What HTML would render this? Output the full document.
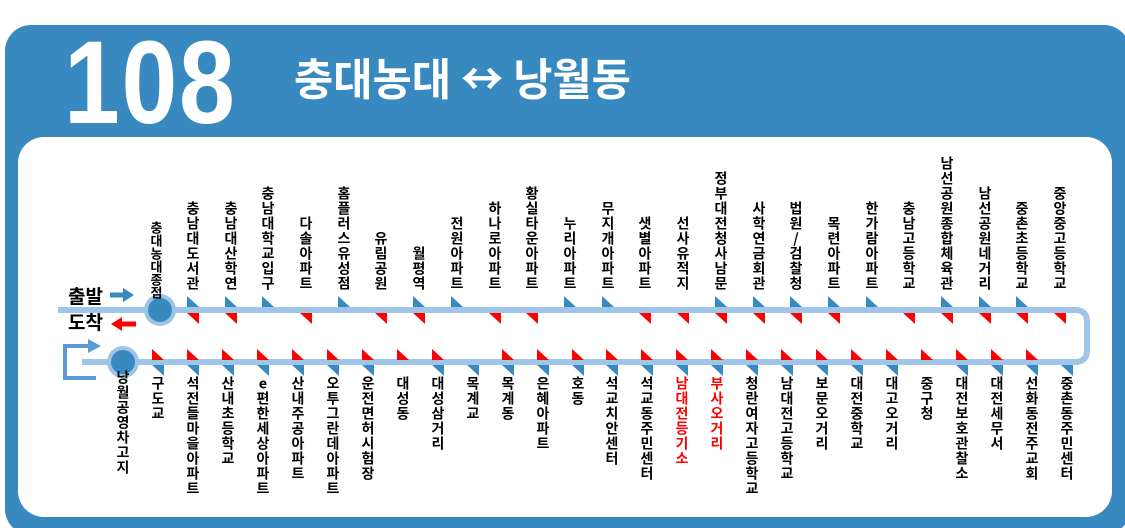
<!DOCTYPE html>
<html><head><meta charset="utf-8"><style>
html,body{margin:0;padding:0;background:#fff}
#c{position:relative;width:1125px;height:528px;overflow:hidden;font-family:"Liberation Sans","Noto Sans CJK KR",sans-serif}
.bg{position:absolute;left:5px;top:25px;width:1125px;height:510px;background:#3789bf;border-radius:26px}
.in{position:absolute;left:18px;top:137px;width:1094px;height:380px;background:#fff;border-radius:26px}
.num{position:absolute;left:64px;top:15px;font-weight:bold;font-size:118px;color:#fff;transform:scaleX(0.85);transform-origin:left top;letter-spacing:2px}
.tt{position:absolute;left:294px;top:51px;font-family:"Noto Sans CJK KR",sans-serif;font-weight:bold;font-size:44px;line-height:50px;color:#fff;transform:scaleX(0.97);transform-origin:left top;white-space:nowrap}
.u,.d{position:absolute;width:16px;writing-mode:vertical-rl;text-orientation:upright;font-family:"Noto Sans CJK KR",sans-serif;font-weight:bold;font-size:14px;letter-spacing:1px;line-height:16px;color:#000;white-space:nowrap}
.u{bottom:237px}
.d{top:376px}
.r{color:#f00}
svg{position:absolute;left:0;top:0}
.lb{position:absolute;font-family:"Noto Sans CJK KR",sans-serif;font-weight:bold;font-size:19px;line-height:20px;color:#000}
</style></head><body><div id="c">
<div class="bg"></div><div class="in"></div>
<div class="num">108</div>
<div class="tt">충대농대 ↔ 낭월동</div>
<svg width="1125" height="528">
<defs>
<path id="ta" d="M0,0 V11 H12 Z"/>
<path id="tc" d="M0,0 H12 V11 Z"/>
</defs>
<path d="M58,310 H1075 Q1087,310 1087,322 V350 Q1087,362 1075,362 H82" fill="none" stroke="#9fc5e8" stroke-width="6"/>
<polyline points="96,378 65,378 65,346 93,346" fill="none" stroke="#5b9bd5" stroke-width="4"/>
<polygon points="88,339 101,346 88,353" fill="#5b9bd5"/>
<line x1="110" y1="295" x2="124" y2="295" stroke="#3789bf" stroke-width="5"/>
<polygon points="123,288 134,295 123,302" fill="#3789bf"/>
<line x1="121" y1="324" x2="136" y2="324" stroke="#f00" stroke-width="5"/>
<polygon points="122,317 111,324 122,331" fill="#f00"/>
<circle cx="160" cy="310" r="16" fill="#a0c4e6"/><circle cx="160" cy="310" r="12" fill="#3789bf"/>
<circle cx="123" cy="362" r="16" fill="#a0c4e6"/><circle cx="123" cy="362" r="12" fill="#3789bf"/>
<g fill="#3789bf">
<use href="#ta" x="187" y="296"/><use href="#ta" x="225" y="296"/><use href="#ta" x="262" y="296"/><use href="#ta" x="338" y="296"/><use href="#ta" x="413" y="296"/><use href="#ta" x="451" y="296"/><use href="#ta" x="564" y="296"/><use href="#ta" x="602" y="296"/><use href="#ta" x="715" y="296"/><use href="#ta" x="753" y="296"/><use href="#ta" x="790" y="296"/><use href="#ta" x="828" y="296"/><use href="#ta" x="866" y="296"/><use href="#ta" x="941" y="296"/><use href="#ta" x="979" y="296"/><use href="#ta" x="1016" y="296"/>
</g>
<g fill="#f00">
<use href="#tc" x="187" y="313"/><use href="#tc" x="225" y="313"/><use href="#tc" x="300" y="313"/><use href="#tc" x="375" y="313"/><use href="#tc" x="413" y="313"/><use href="#tc" x="489" y="313"/><use href="#tc" x="526" y="313"/><use href="#tc" x="639" y="313"/><use href="#tc" x="677" y="313"/><use href="#tc" x="715" y="313"/><use href="#tc" x="753" y="313"/><use href="#tc" x="790" y="313"/><use href="#tc" x="828" y="313"/><use href="#tc" x="903" y="313"/><use href="#tc" x="941" y="313"/><use href="#tc" x="979" y="313"/><use href="#tc" x="1016" y="313"/><use href="#tc" x="1054" y="313"/>
</g>
<g fill="#f00">
<use href="#ta" x="152" y="349"/><use href="#ta" x="187" y="349"/><use href="#ta" x="222" y="349"/><use href="#ta" x="257" y="349"/><use href="#ta" x="292" y="349"/><use href="#ta" x="327" y="349"/><use href="#ta" x="362" y="349"/><use href="#ta" x="397" y="349"/><use href="#ta" x="432" y="349"/><use href="#ta" x="502" y="349"/><use href="#ta" x="537" y="349"/><use href="#ta" x="572" y="349"/><use href="#ta" x="606" y="349"/><use href="#ta" x="641" y="349"/><use href="#ta" x="676" y="349"/><use href="#ta" x="711" y="349"/><use href="#ta" x="746" y="349"/><use href="#ta" x="781" y="349"/><use href="#ta" x="816" y="349"/><use href="#ta" x="851" y="349"/><use href="#ta" x="886" y="349"/><use href="#ta" x="921" y="349"/><use href="#ta" x="956" y="349"/><use href="#ta" x="991" y="349"/><use href="#ta" x="1026" y="349"/>
</g>
<g fill="#3789bf">
<use href="#tc" x="152" y="365"/><use href="#tc" x="187" y="365"/><use href="#tc" x="222" y="365"/><use href="#tc" x="257" y="365"/><use href="#tc" x="292" y="365"/><use href="#tc" x="327" y="365"/><use href="#tc" x="362" y="365"/><use href="#tc" x="432" y="365"/><use href="#tc" x="467" y="365"/><use href="#tc" x="502" y="365"/><use href="#tc" x="537" y="365"/><use href="#tc" x="572" y="365"/><use href="#tc" x="606" y="365"/><use href="#tc" x="641" y="365"/><use href="#tc" x="676" y="365"/><use href="#tc" x="711" y="365"/><use href="#tc" x="746" y="365"/><use href="#tc" x="781" y="365"/><use href="#tc" x="816" y="365"/><use href="#tc" x="851" y="365"/><use href="#tc" x="886" y="365"/><use href="#tc" x="956" y="365"/><use href="#tc" x="991" y="365"/><use href="#tc" x="1026" y="365"/><use href="#tc" x="1061" y="365"/>
</g>
</svg>
<div class="lb" style="left:68px;top:286px">출발</div>
<div class="lb" style="left:68px;top:312px">도착</div>
<div class="u" style="left:148px;bottom:229px;font-size:13px;letter-spacing:0">충대농대종점</div>
<div class="u" style="left:185px">충남대도서관</div>
<div class="u" style="left:223px">충남대산학연</div>
<div class="u" style="left:260px">충남대학교입구</div>
<div class="u" style="left:298px">다솔아파트</div>
<div class="u" style="left:336px">홈플러스유성점</div>
<div class="u" style="left:373px">유림공원</div>
<div class="u" style="left:411px">월평역</div>
<div class="u" style="left:449px">전원아파트</div>
<div class="u" style="left:487px">하나로아파트</div>
<div class="u" style="left:524px">황실타운아파트</div>
<div class="u" style="left:562px">누리아파트</div>
<div class="u" style="left:600px">무지개아파트</div>
<div class="u" style="left:637px">샛별아파트</div>
<div class="u" style="left:675px">선사유적지</div>
<div class="u" style="left:713px">정부대전청사남문</div>
<div class="u" style="left:751px">사학연금회관</div>
<div class="u" style="left:788px">법원/검찰청</div>
<div class="u" style="left:826px">목련아파트</div>
<div class="u" style="left:864px">한가람아파트</div>
<div class="u" style="left:901px">충남고등학교</div>
<div class="u" style="left:939px">남선공원종합체육관</div>
<div class="u" style="left:977px">남선공원네거리</div>
<div class="u" style="left:1014px">중촌초등학교</div>
<div class="u" style="left:1052px">중앙중고등학교</div>
<div class="d" style="left:115px;top:370px">낭월공영차고지</div>
<div class="d" style="left:150px">구도교</div>
<div class="d" style="left:185px">석전들마을아파트</div>
<div class="d" style="left:220px">산내초등학교</div>
<div class="d" style="left:255px">e편한세상아파트</div>
<div class="d" style="left:290px">산내주공아파트</div>
<div class="d" style="left:325px">오투그란데아파트</div>
<div class="d" style="left:360px">운전면허시험장</div>
<div class="d" style="left:395px">대성동</div>
<div class="d" style="left:430px">대성삼거리</div>
<div class="d" style="left:465px">목계교</div>
<div class="d" style="left:500px">목계동</div>
<div class="d" style="left:535px">은혜아파트</div>
<div class="d" style="left:570px">호동</div>
<div class="d" style="left:604px">석교치안센터</div>
<div class="d" style="left:639px">석교동주민센터</div>
<div class="d r" style="left:674px">남대전등기소</div>
<div class="d r" style="left:709px">부사오거리</div>
<div class="d" style="left:744px">청란여자고등학교</div>
<div class="d" style="left:779px">남대전고등학교</div>
<div class="d" style="left:814px">보문오거리</div>
<div class="d" style="left:849px">대전중학교</div>
<div class="d" style="left:884px">대고오거리</div>
<div class="d" style="left:919px">중구청</div>
<div class="d" style="left:954px">대전보호관찰소</div>
<div class="d" style="left:989px">대전세무서</div>
<div class="d" style="left:1024px">선화동전주교회</div>
<div class="d" style="left:1059px">중촌동주민센터</div>
</div></body></html>
